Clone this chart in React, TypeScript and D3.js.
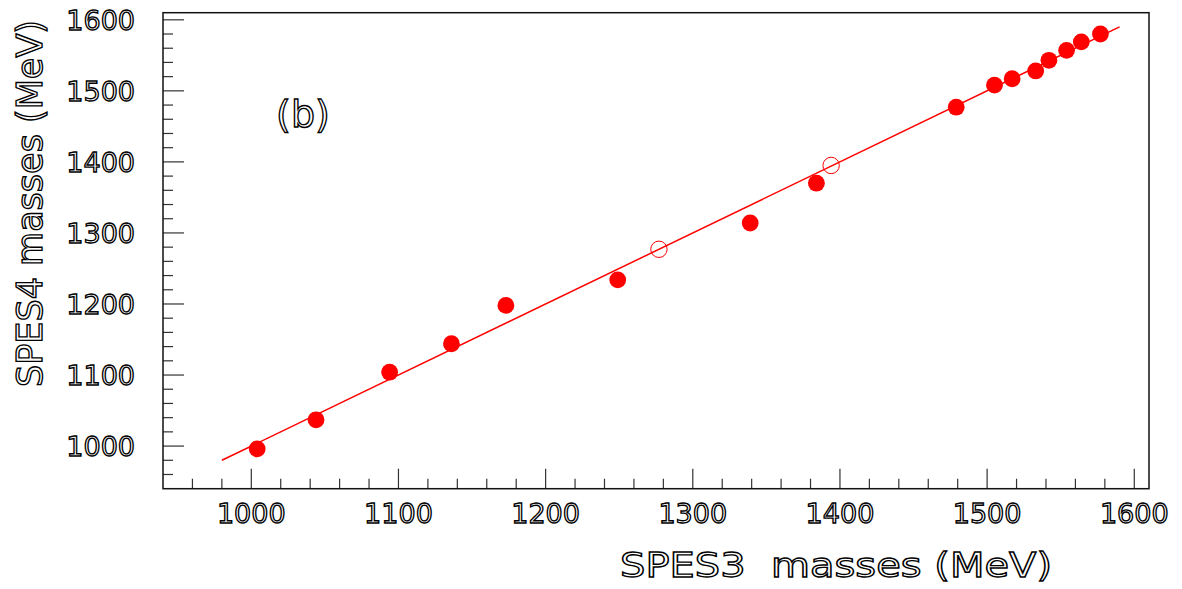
import React from "react";
import * as d3 from "d3";

// Filled points: SPES3 mass (x) vs SPES4 mass (y), MeV
const filledX = [1004, 1044, 1094, 1136, 1173, 1249, 1339, 1384, 1479, 1505, 1517, 1533, 1542, 1554, 1564, 1577];
const filledY = [996, 1037, 1104, 1144, 1198, 1234, 1314, 1370, 1477, 1508, 1517, 1528, 1543, 1557, 1569, 1580];
// Open points
const openX = [1277, 1394];
const openY = [1277, 1395];
// Fit line y = x
const lineX = [980, 1590];
const lineY = [980, 1590];

const xTicks = [1000, 1100, 1200, 1300, 1400, 1500, 1600];
const yTicks = [1000, 1100, 1200, 1300, 1400, 1500, 1600];
const xDomain = [940, 1610];
const yDomain = [940, 1610];

const W = 1182;
const H = 589;
const L = 163, R = 1149, T = 12.7, B = 488.7;

const textStyle: React.CSSProperties = {
  fontFamily: "DejaVu Sans, sans-serif",
  fill: "#ffffff",
  stroke: "#000000",
  strokeWidth: 1.35,
};

export default function App() {
  const x = d3.scaleLinear().domain(xDomain).range([L, R]);
  const y = d3.scaleLinear().domain(yDomain).range([B, T]);
  const minorX = d3.range(960, 1610, 20);
  const minorY = d3.range(960, 1610, 20);
  const line = d3.line<number>().x((_, i) => x(lineX[i])).y((_, i) => y(lineY[i]));

  return (
    <svg width={W} height={H} style={{ position: "absolute", left: 0, top: 0, background: "#fff" }}>
      <rect x={0} y={0} width={W} height={H} fill="#fff" />
      {/* ticks */}
      {minorX.map((v) => {
        const major = v % 100 === 0;
        return (
          <line key={"xt" + v} x1={x(v)} x2={x(v)} y1={B} y2={B - (major ? 20 : 10)} stroke="#333" strokeWidth={1.2} />
        );
      })}
      {minorY.map((v) => {
        const major = v % 100 === 0;
        return (
          <line key={"yt" + v} y1={y(v)} y2={y(v)} x1={L} x2={L + (major ? 21 : 10)} stroke="#333" strokeWidth={1.2} />
        );
      })}
      <rect x={L} y={T} width={R - L} height={B - T} fill="none" stroke="#111" strokeWidth={1.5} />
      {/* tick labels */}
      {xTicks.map((v) => (
        <text key={"xl" + v} x={x(v)} y={523} textAnchor="middle" fontSize={27} style={textStyle}>
          {v}
        </text>
      ))}
      {yTicks.map((v) => (
        <text key={"yl" + v} x={135} y={y(v) + 10} textAnchor="end" fontSize={27} style={textStyle}>
          {v}
        </text>
      ))}
      {/* titles */}
      <text x={620} y={577} fontSize={34} textLength={432} lengthAdjust="spacingAndGlyphs" style={{ ...textStyle, whiteSpace: "pre" }} xmlSpace="preserve">
        {"SPES3  masses (MeV)"}
      </text>
      <text transform="translate(42,387) rotate(-90)" fontSize={35} textLength={367} lengthAdjust="spacingAndGlyphs" style={textStyle}>
        SPES4 masses (MeV)
      </text>
      <text x={303} y={127} textAnchor="middle" fontSize={38} style={textStyle}>
        (b)
      </text>
      {/* fit line */}
      <path d={line(lineX) || ""} fill="none" stroke="#ff0000" strokeWidth={1.5} />
      {/* points */}
      {filledX.map((v, i) => (
        <circle key={"f" + i} cx={x(v)} cy={y(filledY[i])} r={8.4} fill="#ff0000" />
      ))}
      {openX.map((v, i) => (
        <circle key={"o" + i} cx={x(v)} cy={y(openY[i])} r={8.2} fill="none" stroke="#ff0000" strokeWidth={1} />
      ))}
    </svg>
  );
}
